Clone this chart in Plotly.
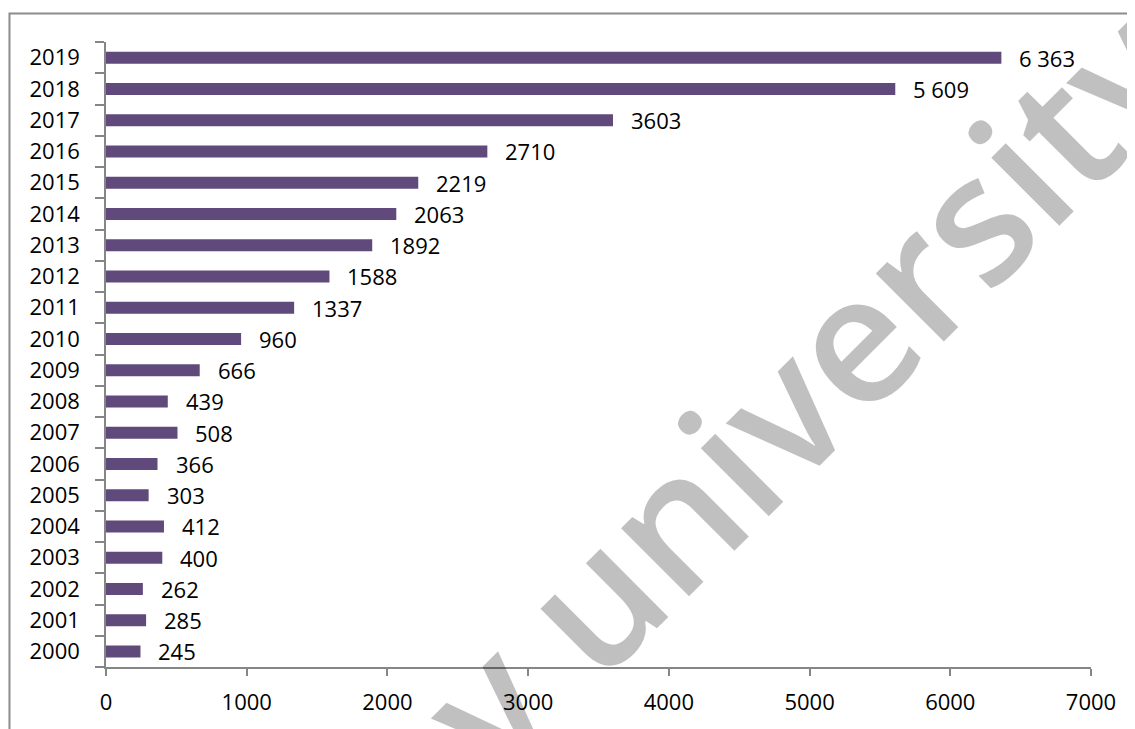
import plotly.graph_objects as go

# data
years = ['2000', '2001', '2002', '2003', '2004', '2005', '2006', '2007', '2008', '2009',
         '2010', '2011', '2012', '2013', '2014', '2015', '2016', '2017', '2018', '2019']
counts = [245, 285, 262, 400, 412, 303, 366, 508, 439, 666,
          960, 1337, 1588, 1892, 2063, 2219, 2710, 3603, 5609, 6363]
labels = ['245', '285', '262', '400', '412', '303', '366', '508', '439', '666',
          '960', '1337', '1588', '1892', '2063', '2219', '2710', '3603', '5 609', '6 363']
x_ticks = [0, 1000, 2000, 3000, 4000, 5000, 6000, 7000]

BAR = '#604a7b'
AXIS = '#868686'
FONT = 'Open Sans'

fig = go.Figure()

fig.add_trace(go.Bar(
    x=counts,
    y=years,
    orientation='h',
    marker=dict(color=BAR, line=dict(width=0)),
    hoverinfo='x+y',
))

# value labels just past the end of each bar
# (category axis: annotation y is the category index)
for i, (v, lab) in enumerate(zip(counts, labels)):
    fig.add_annotation(
        x=v, y=i, xref='x', yref='y',
        text=lab, showarrow=False,
        xanchor='left', yanchor='middle', xshift=16,
        font=dict(family=FONT, size=22, color='black'),
    )

# watermark - translucent so the tick labels underneath stay readable
fig.add_annotation(
    x=0.706, y=0.45, xref='paper', yref='paper',
    text='y university', showarrow=False, textangle=-45,
    xanchor='center', yanchor='middle',
    font=dict(family=FONT, size=178, color='rgba(0,0,0,0.247)', weight=600),
)

# chart frame (only top and left edges visible in the crop)
fig.add_shape(
    type='rect', xref='paper', yref='paper',
    x0=-0.098, x1=1.2, y0=-0.3, y1=1.0456,
    line=dict(color='#8c8c8c', width=2), layer='below',
)

# page body adds an 8px margin, so the figure is 8px smaller than the window
fig.update_layout(
    width=1127,
    height=721,
    margin=dict(l=98, r=44, t=34, b=62),
    paper_bgcolor='white',
    plot_bgcolor='white',
    showlegend=False,
    bargap=0.616,
    font=dict(family=FONT, size=22, color='black'),
    xaxis=dict(
        range=[0, 7000],
        tickvals=x_ticks,
        ticks='outside', ticklen=7, tickcolor=AXIS, tickwidth=1.5,
        showline=True, linecolor=AXIS, linewidth=1.5,
        showgrid=False, zeroline=False,
        ticklabelstandoff=8,
        tickfont=dict(family=FONT, size=22, color='black'),
    ),
    yaxis=dict(
        type='category',
        categoryorder='array', categoryarray=years,
        range=[-0.5, len(years) - 0.5],
        ticks='outside', ticklen=9, tickcolor=AXIS, tickwidth=1.5,
        tickson='boundaries',
        showline=True, linecolor=AXIS, linewidth=1.5,
        showgrid=False, zeroline=False,
        ticklabelstandoff=20,
        tickfont=dict(family=FONT, size=22, color='black'),
    ),
)

fig.write_html("out.html")
